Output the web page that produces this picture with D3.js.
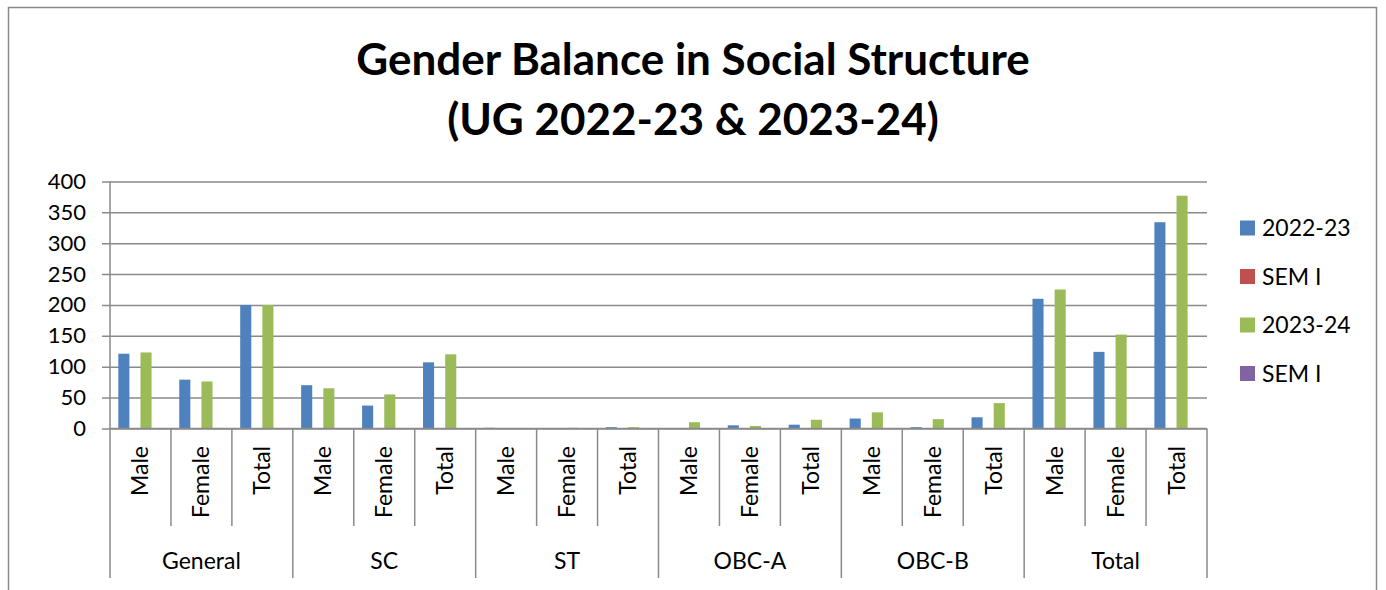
<!DOCTYPE html>
<html><head><meta charset="utf-8">
<script src="https://cdn.jsdelivr.net/npm/d3@7"></script>
<style>body{margin:0;background:#fff;} svg{display:block;} text{font-family:Lato,"Open Sans",sans-serif;fill:#000;}</style>
</head><body>
<svg id="chart" width="1386" height="590"></svg>
<script>
const groups = ["General","SC","ST","OBC-A","OBC-B","Total"];
const subCats = ["Male","Female","Total"];
const seriesNames = ["2022-23","SEM I","2023-24","SEM I"];
const seriesColors = ["#4F81BD","#C0504D","#9BBB59","#8064A2"];
const v2022 = [121,79,200, 70,37,107, 1,0,2, 0,5,6, 16,2,18, 210,124,334];
const semI_a = [0,0,0, 0,0,0, 0,0,0, 0,0,0, 0,0,0, 0,0,0];
const v2023 = [123,76,200, 65,55,120, 0,1,2, 10,4,14, 26,15,41, 225,152,377];
const semI_b = [0,0,0, 0,0,0, 0,0,0, 0,0,0, 0,0,0, 0,0,0];
const yTicks = [0,50,100,150,200,250,300,350,400];
const titleLines = ["Gender Balance in Social Structure","(UG 2022-23 & 2023-24)"];

const seriesValues = [v2022, semI_a, v2023, semI_b];
const cats = [];
groups.forEach(g => subCats.forEach(s => cats.push({g, s, key: g + "|" + s})));

const svg = d3.select("#chart");
const L = 110, R = 1207, T = 181.5, B = 428.4;

// chart border
svg.append("rect").attr("x",8.5).attr("y",7.5).attr("width",1368).attr("height",620)
  .attr("fill","none").attr("stroke","#8a8a8a").attr("stroke-width",1.5);

// title
const tt = svg.append("g");
titleLines.forEach((t,i) => {
  tt.append("text").attr("x",693).attr("y",[75,135][i]).attr("text-anchor","middle")
    .attr("font-weight","bold").attr("font-size",44).text(t);
});

const x = d3.scaleBand().domain(cats.map(c=>c.key)).range([L,R]).padding(0);
const xs = d3.scaleBand().domain(d3.range(4)).range([0,x.bandwidth()]).paddingInner(0).paddingOuter(0.75);
const y = d3.scaleLinear().domain([0,400]).range([B,T]);

// gridlines + y axis
const yAxis = d3.axisLeft(y).tickValues(yTicks).tickSize(-(R-L)).tickSizeOuter(0).tickPadding(24);
const gy = svg.append("g").attr("transform",`translate(${L},0)`).call(yAxis);
gy.select(".domain").remove();
gy.selectAll(".tick line").attr("stroke","#8a8a8a").attr("stroke-width",1.5).attr("x1",-8);
gy.selectAll(".tick text").attr("font-size",22).attr("font-family","Lato").attr("fill","#000");
svg.append("line").attr("x1",L).attr("x2",L).attr("y1",T).attr("y2",B).attr("stroke","#8a8a8a").attr("stroke-width",1.5);

// bars
seriesValues.forEach((vals,si) => {
  svg.append("g").selectAll("rect").data(cats.map((c,i)=>({c, v: vals[i]})).filter(d=>d.v>0))
    .join("rect")
    .attr("x", d => x(d.c.key) + xs(si))
    .attr("width", xs.bandwidth())
    .attr("y", d => y(d.v))
    .attr("height", d => B - y(d.v))
    .attr("fill", seriesColors[si]);
});

// x axis categories
const gx = svg.append("g");
gx.append("line").attr("x1",L).attr("x2",R).attr("y1",B).attr("y2",B).attr("stroke","#8a8a8a").attr("stroke-width",1.5);
cats.forEach((c,i) => {
  const x0 = x(c.key);
  const isGroupStart = i % 3 === 0;
  gx.append("line").attr("x1",x0).attr("x2",x0).attr("y1",B).attr("y2", isGroupStart ? 578 : 526)
    .attr("stroke","#8a8a8a").attr("stroke-width",1.5);
  gx.append("text").attr("transform",`translate(${x0 + x.bandwidth()/2 + 8},446) rotate(-90)`)
    .attr("text-anchor","end").attr("font-size",23).text(c.s);
});
gx.append("line").attr("x1",R).attr("x2",R).attr("y1",B).attr("y2",578).attr("stroke","#8a8a8a").attr("stroke-width",1.5);
groups.forEach((g,gi) => {
  const x0 = x(g + "|Male"), x1 = x(g + "|Total") + x.bandwidth();
  gx.append("text").attr("x",(x0+x1)/2).attr("y",569).attr("text-anchor","middle").attr("font-size",23).text(g);
});

// legend
const lg = svg.append("g");
seriesNames.forEach((n,i) => {
  const cy = 228 + i*48.5;
  lg.append("rect").attr("x",1240).attr("y",cy-7.5).attr("width",15).attr("height",15).attr("fill",seriesColors[i]);
  lg.append("text").attr("x",1262).attr("y",cy+8).attr("font-size",23).text(n);
});
</script>
</body></html>
